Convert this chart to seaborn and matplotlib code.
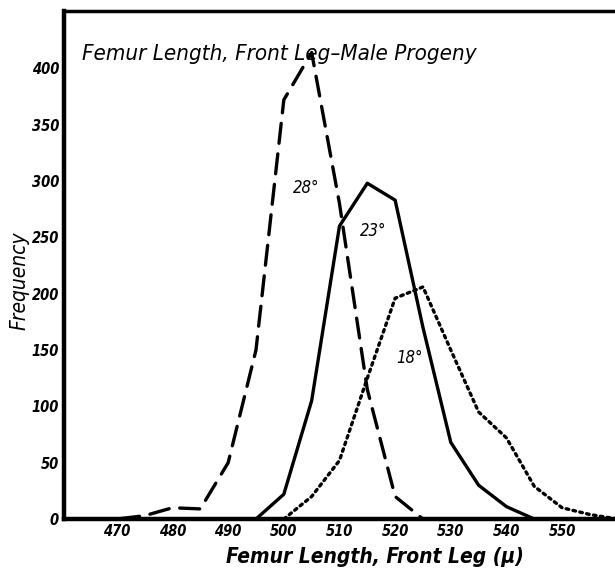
import pandas as pd
import numpy as np
import matplotlib.pyplot as plt
import seaborn as sns

# femur length (microns) and frequency
length_28 = [465, 470, 475, 480, 485, 490, 495, 500, 505, 510, 515, 520, 525]
freq_28 = [0, 0, 3, 10, 9, 50, 150, 372, 414, 280, 115, 20, 0]

length_23 = [495, 500, 505, 510, 515, 520, 525, 530, 535, 540, 545]
freq_23 = [0, 22, 105, 260, 298, 283, 170, 68, 30, 11, 0]

length_18 = [500, 505, 510, 515, 520, 525, 530, 535, 540, 545, 550, 555, 560]
freq_18 = [0, 20, 52, 125, 196, 206, 150, 95, 72, 29, 10, 4, 0]

temps = ['28°', '23°', '18°']
x_ticks = [470, 480, 490, 500, 510, 520, 530, 540, 550]
y_ticks = [0, 50, 100, 150, 200, 250, 300, 350, 400]

df = pd.concat([
    pd.DataFrame({'Length': length_28, 'Frequency': freq_28, 'Temp': '28°'}),
    pd.DataFrame({'Length': length_23, 'Frequency': freq_23, 'Temp': '23°'}),
    pd.DataFrame({'Length': length_18, 'Frequency': freq_18, 'Temp': '18°'}),
], ignore_index=True)

sns.set_style('white')
plt.rcParams['font.family'] = ['DejaVu Sans']
plt.rcParams['font.stretch'] = 'condensed'
plt.rcParams['text.color'] = 'black'
plt.rcParams['xtick.color'] = 'black'
plt.rcParams['ytick.color'] = 'black'
plt.rcParams['axes.labelcolor'] = 'black'
plt.rcParams['lines.dash_capstyle'] = 'round'

fig = plt.figure(figsize=(6.15, 5.71), dpi=100)
ax = fig.add_axes([0.104, 0.091, 0.896, 0.890])

dash_map = {'28°': (6, 3.2), '23°': '', '18°': (0.8, 1.3)}
sns.lineplot(data=df, x='Length', y='Frequency', style='Temp', style_order=temps,
             dashes=dash_map, color='black', linewidth=2.4, ax=ax, legend=False,
             estimator=None, sort=False)

# where each curve is labelled
label_pos = {'28°': (504, 294), '23°': (516, 256), '18°': (522.6, 143)}
for t in temps:
    ax.text(label_pos[t][0], label_pos[t][1], t, fontsize=12, style='italic', ha='center', va='center')

ax.text(0.032, 0.915, 'Femur Length, Front Leg–Male Progeny', transform=ax.transAxes,
        fontsize=16, style='italic', ha='left', va='center')

ax.set_xlim(460.5, 559.5)
ax.set_ylim(0, 451)
ax.set_xticks(x_ticks)
ax.set_yticks(y_ticks)
ax.tick_params(direction='in', length=11, width=1.6, labelsize=10.5, color='black')
for lab in ax.get_xticklabels() + ax.get_yticklabels():
    lab.set_fontstyle('italic')
    lab.set_fontweight('bold')

ax.set_xlabel('Femur Length, Front Leg (μ)', fontsize=15, style='italic', fontweight='bold')
ax.set_ylabel('Frequency', fontsize=15, style='italic')
ax.xaxis.set_label_coords(0.565, -0.055)
ax.yaxis.set_label_coords(-0.062, 0.47)

for side in ['left', 'bottom', 'top']:
    ax.spines[side].set_visible(True)
    ax.spines[side].set_color('black')
ax.spines['left'].set_linewidth(3.2)
ax.spines['bottom'].set_linewidth(3.2)
ax.spines['top'].set_linewidth(2.5)
ax.spines['right'].set_visible(False)

fig.savefig('out.png', dpi=100)
